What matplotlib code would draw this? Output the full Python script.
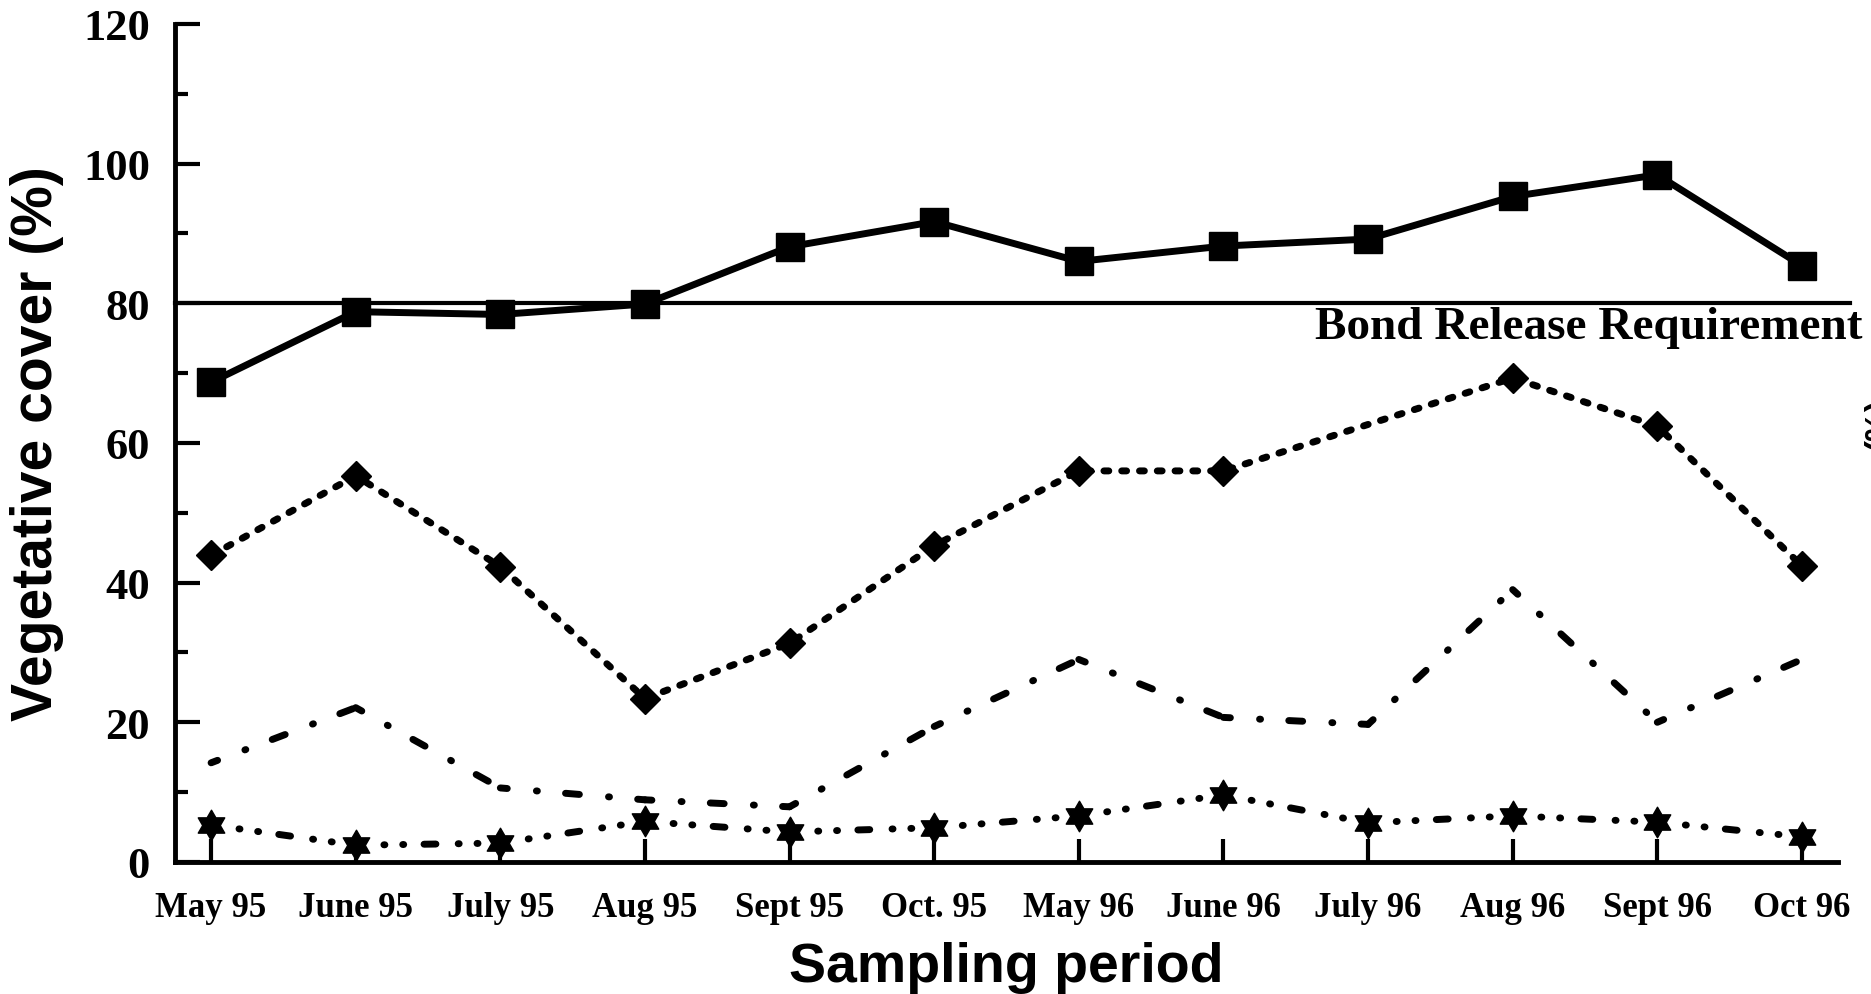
import numpy as np
import matplotlib
matplotlib.use("Agg")
import matplotlib.pyplot as plt
from matplotlib.path import Path

# sampling periods and cover values (%)
months = ["May 95", "June 95", "July 95", "Aug 95", "Sept 95", "Oct. 95",
          "May 96", "June 96", "July 96", "Aug 96", "Sept 96", "Oct 96"]
total_cover = [68.7, 78.8, 78.4, 79.9, 88.1, 91.7, 86.0, 88.2, 89.2, 95.3, 98.4, 85.4]
diamond_cover = [43.9, 55.3, 42.3, 23.4, 31.3, 45.3, 56.0, 56.0, np.nan, 69.3, 62.4, 42.4]
dashdot_cover = [14.2, 22.1, 10.6, 8.9, 7.9, 19.4, 29.0, 20.7, 19.7, 39.0, 20.0, 29.0]
star_cover = [5.3, 2.4, 2.7, 5.8, 4.3, 4.9, 6.6, 9.6, 5.6, 6.6, 5.7, 3.6]
bond_level = 80

serif = "Liberation Serif"
sans = "Liberation Sans"

fig = plt.figure(figsize=(18.71, 9.95), dpi=100)
ax = fig.add_axes([0.0935, 0.1327, 0.8889, 0.8422])

x = np.arange(len(months))


def seg_plot(xs, ys, **kw):
    # draw each segment on its own so the dash pattern restarts at every point
    for i in range(len(xs) - 1):
        ax.plot(xs[i:i + 2], ys[i:i + 2], **kw)


# bond release line
ax.axhline(bond_level, xmin=0, xmax=1.007, color="black", lw=3, clip_on=False, zorder=2)
ax.text(11.42, bond_level - 0.4, "Bond Release Requirement", ha="right", va="top",
        fontsize=34, fontweight="bold", family=serif, clip_on=False)

# total cover, squares
ax.plot(x, total_cover, color="black", lw=5, marker="s", markersize=19.5, zorder=5)

# diamonds, dotted
d = np.array(diamond_cover)
ok = ~np.isnan(d)
ax.plot(x[ok], d[ok], color="black", lw=5, linestyle=(0, (0.7, 1.86)),
        dash_capstyle="round", zorder=4)
ax.plot(x[ok], d[ok], linestyle="none", color="black", marker="D", markersize=15, zorder=5)

# dash-dot series, no markers
seg_plot(x, dashdot_cover, color="black", lw=5,
         linestyle=(1.0, (2.0, 4.21, 0.14, 4.07)), dash_capstyle="round", zorder=3)

# six-pointed stars, dash-dot-dot
star = Path.unit_regular_star(6, innerCircle=0.577)
seg_plot(x, star_cover, color="black", lw=5,
         linestyle=(0.86, (1.71, 3.21, 0.14, 2.57, 0.14, 2.93)),
         dash_capstyle="round", zorder=3)
ax.plot(x, star_cover, linestyle="none", color="black", marker=star, markersize=22, zorder=5)

ax.set_xlim(-0.25, 11.25)
ax.set_ylim(0, 120)
ax.set_xticks(x)
ax.set_xticklabels(months)
ax.set_yticks(np.arange(0, 121, 20))
ax.set_yticks(np.arange(10, 120, 20), minor=True)

for s in ["top", "right"]:
    ax.spines[s].set_visible(False)
for s in ["left", "bottom"]:
    ax.spines[s].set_linewidth(3.5)

ax.tick_params(axis="y", which="major", direction="in", length=18, width=3, pad=18)
ax.tick_params(axis="y", which="minor", direction="in", length=9.5, width=3)
ax.tick_params(axis="x", which="major", direction="in", length=16.5, width=3, pad=21)

for lab in ax.get_yticklabels():
    lab.set_fontfamily(serif)
    lab.set_fontweight("bold")
    lab.set_fontsize(32)
for lab in ax.get_xticklabels():
    lab.set_fontfamily(serif)
    lab.set_fontweight("bold")
    lab.set_fontsize(25)

ax.set_ylabel("Vegetative cover (%)", fontsize=41, fontweight="bold", family=sans)
ax.yaxis.set_label_coords(-0.067, 0.5)
ax.set_xlabel("Sampling period", fontsize=40, fontweight="bold", family=sans)
ax.xaxis.set_label_coords(0.5, -0.094)

# cut-off fragment at the right edge
fig.text(1863 / 1871, 1 - 424 / 995, "(%)", rotation=90, ha="left", va="center",
         fontsize=24, fontweight="bold", family=sans)

fig.savefig("out.png", dpi=100)
